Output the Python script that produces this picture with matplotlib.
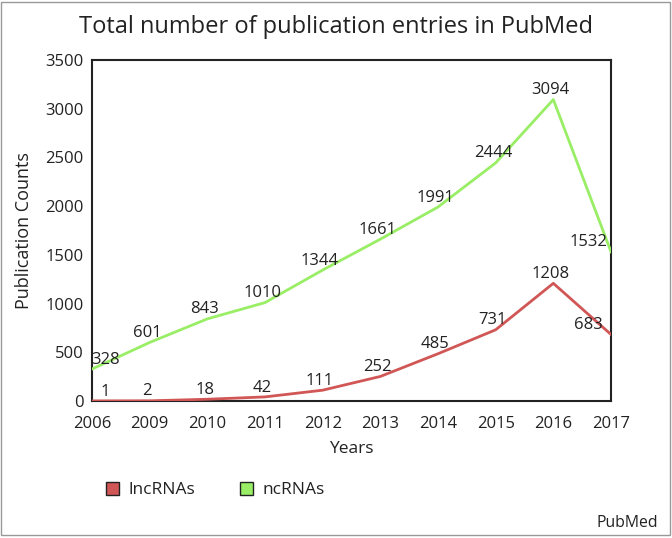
import numpy as np
import matplotlib.pyplot as plt
from matplotlib.patches import Rectangle

plt.rcParams['font.family'] = ['Open Sans', 'DejaVu Sans']

years = ['2006', '2009', '2010', '2011', '2012', '2013', '2014', '2015', '2016', '2017']
lncrnas = [1, 2, 18, 42, 111, 252, 485, 731, 1208, 683]
ncrnas = [328, 601, 843, 1010, 1344, 1661, 1991, 2444, 3094, 1532]

red = '#d15656'
green = '#99ee66'
ink = '#222222'

fig = plt.figure(figsize=(6.72, 5.38), dpi=100)
ax = fig.add_axes([92 / 672, 1 - 401 / 538, (611 - 92) / 672, (401 - 60) / 538])

x = np.arange(len(years))
ax.plot(x, lncrnas, color=red, lw=2, label='lncRNAs', zorder=3)
ax.plot(x, ncrnas, color=green, lw=2, label='ncRNAs', zorder=3)

# value labels, pulled inward at the edges
for series in (lncrnas, ncrnas):
    for i, v in enumerate(series):
        dx = 0
        if i == 0:
            dx = 0.28
        elif i == len(series) - 1:
            dx = -0.35
        ax.annotate(str(v), (x[i] + dx, v), xytext=(-2, 1), textcoords='offset points',
                    ha='center', va='bottom', fontsize=12, color=ink, zorder=4)

ax.set_xlim(0, len(years) - 1)
ax.set_ylim(0, 3500)
ax.set_xticks(x)
ax.set_xticklabels(years)
ax.set_yticks(np.arange(0, 3501, 500))
ax.tick_params(length=0, labelsize=12, colors=ink)
ax.tick_params(axis='x', pad=11)
ax.tick_params(axis='y', pad=6)
for s in ax.spines.values():
    s.set_color(ink)
    s.set_linewidth(1.5)

ax.set_xlabel('Years', fontsize=12.5, color=ink, labelpad=6)
ax.set_ylabel('Publication Counts', fontsize=13, color=ink, labelpad=9)
fig.text(0.5, 1 - 27 / 538, 'Total number of publication entries in PubMed',
         ha='center', va='center', fontsize=17, color=ink)

leg = fig.legend(handles=[
    plt.Rectangle((0, 0), 1, 1, fc=red, ec=ink, lw=1),
    plt.Rectangle((0, 0), 1, 1, fc=green, ec=ink, lw=1)],
    labels=['lncRNAs', 'ncRNAs'], loc='center left',
    bbox_to_anchor=(90 / 672, 1 - 490 / 538), ncol=2, frameon=False,
    fontsize=12.5, handlelength=0.75, handleheight=0.75, columnspacing=2.6,
    handletextpad=0.55)
for t in leg.get_texts():
    t.set_color(ink)

fig.text(658 / 672, 1 - 523 / 538, 'PubMed', ha='right', va='center',
         fontsize=11.3, color=ink)

fig.patches.append(Rectangle((1 / 672, 1 - 535 / 538), 669 / 672, 533 / 538,
                             transform=fig.transFigure, fill=False,
                             ec='#999999', lw=1))

fig.savefig('out.png', dpi=100)
